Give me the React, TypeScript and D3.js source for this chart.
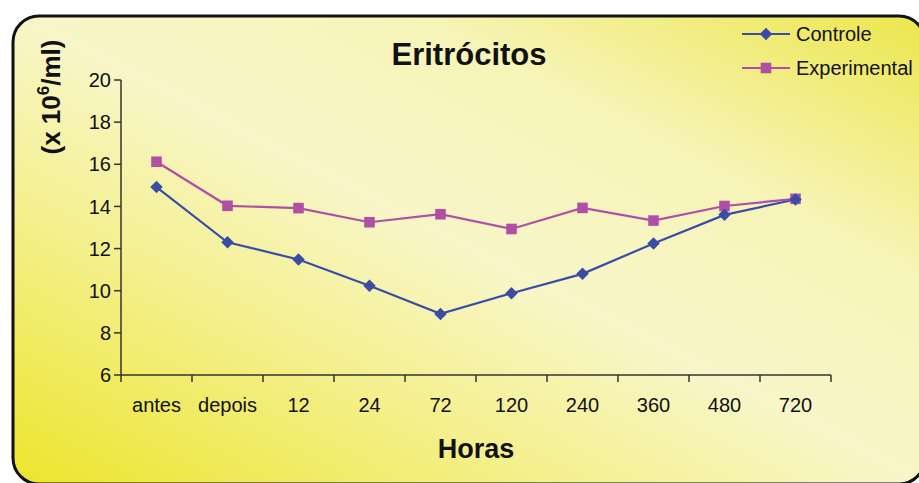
import React from 'react'
import * as d3 from 'd3'

const categories = ['antes', 'depois', '12', '24', '72', '120', '240', '360', '480', '720']
const controle = [14.92, 12.3, 11.48, 10.24, 8.9, 9.88, 10.8, 12.24, 13.6, 14.33]
const experimental = [16.12, 14.03, 13.92, 13.25, 13.63, 12.93, 13.93, 13.33, 14.02, 14.36]
const yTicks = [6, 8, 10, 12, 14, 16, 18, 20]

const W = 919
const H = 483
const left = 121
const right = 831
const top = 80
const bottom = 375

const BLUE = '#3a4da6'
const MAGENTA = '#b04fa6'
const AXIS = '#333'
const FONT = 'Arial, "Liberation Sans", sans-serif'

export default function App() {
  const x = d3.scaleBand<string>().domain(categories).range([left, right]).paddingInner(0).paddingOuter(0)
  const y = d3.scaleLinear().domain([6, 20]).range([bottom, top])
  const cx = (c: string) => (x(c) as number) + x.bandwidth() / 2

  const line = d3
    .line<number>()
    .x((d, i) => cx(categories[i]))
    .y((d) => y(d))

  // diamond = square turned 45deg, like the Excel marker
  const diamond = d3.symbol().type(d3.symbolSquare).size(78)
  const square = d3.symbol().type(d3.symbolSquare).size(112)

  const boundaries = categories.map((c) => x(c) as number).concat([right])

  return (
    <div style={{position: 'absolute', left: 0, top: 0}}>
      <svg width={W} height={H} style={{display: 'block', fontFamily: FONT}}>
        <defs>
          <linearGradient id="bg" x1="0" y1="1" x2="1" y2="0">
            <stop offset="0" stopColor="#ece52c" />
            <stop offset="0.3" stopColor="#f4f08e" />
            <stop offset="0.5" stopColor="#f8f6c8" />
            <stop offset="0.72" stopColor="#f7f4b8" />
            <stop offset="1" stopColor="#ece64c" />
          </linearGradient>
        </defs>
        <rect x={0} y={0} width={W} height={H} fill="#fff" />
        <rect x={13} y={16} width={912} height={468} rx={26} ry={26} fill="url(#bg)" stroke="#111" strokeWidth={3} />

        <text x={469} y={65} textAnchor="middle" fontSize={31} fontWeight="bold" fill="#111">
          Eritrócitos
        </text>

        {/* y axis */}
        <line x1={left} x2={left} y1={top} y2={bottom} stroke={AXIS} strokeWidth={1.5} />
        {yTicks.map((t) => (
          <g key={t}>
            <line x1={left - 7} x2={left} y1={y(t)} y2={y(t)} stroke={AXIS} strokeWidth={1.5} />
            <text x={left - 10} y={y(t)} dy="0.36em" textAnchor="end" fontSize={20} fill="#111">
              {t}
            </text>
          </g>
        ))}

        {/* x axis */}
        <line x1={left} x2={right} y1={bottom} y2={bottom} stroke={AXIS} strokeWidth={1.5} />
        {boundaries.map((b, i) => (
          <line key={i} x1={b} x2={b} y1={bottom} y2={bottom + 7} stroke={AXIS} strokeWidth={1.5} />
        ))}
        {categories.map((c) => (
          <text key={c} x={cx(c)} y={412} textAnchor="middle" fontSize={20} fill="#111">
            {c}
          </text>
        ))}

        <text x={476} y={458} textAnchor="middle" fontSize={27} fontWeight="bold" fill="#111">
          Horas
        </text>

        <text transform="translate(60,97) rotate(-90)" textAnchor="middle" fontSize={26} fontWeight="bold" fill="#111">
          (x 10<tspan fontSize={17} dy={-11}>6</tspan>
          <tspan dy={11}>/ml)</tspan>
        </text>

        {/* series */}
        <path d={line(controle) || ''} fill="none" stroke={BLUE} strokeWidth={2.2} />
        <path d={line(experimental) || ''} fill="none" stroke={MAGENTA} strokeWidth={2.2} />
        {experimental.map((v, i) => (
          <path key={'e' + i} d={square() || ''} transform={`translate(${cx(categories[i])},${y(v)})`} fill={MAGENTA} />
        ))}
        {controle.map((v, i) => (
          <path
            key={'c' + i}
            d={diamond() || ''}
            transform={`translate(${cx(categories[i])},${y(v)}) rotate(45)`}
            fill={BLUE}
          />
        ))}

        {/* legend */}
        <line x1={742} x2={790} y1={34} y2={34} stroke={BLUE} strokeWidth={2} />
        <path d={diamond() || ''} transform="translate(766,34) rotate(45)" fill={BLUE} />
        <text x={796} y={34} dy="0.36em" fontSize={20} fill="#111">
          Controle
        </text>
        <line x1={742} x2={790} y1={68} y2={68} stroke={MAGENTA} strokeWidth={2} />
        <path d={square() || ''} transform="translate(766,68)" fill={MAGENTA} />
        <text x={796} y={68} dy="0.36em" fontSize={20} fill="#111">
          Experimental
        </text>
      </svg>
    </div>
  )
}
